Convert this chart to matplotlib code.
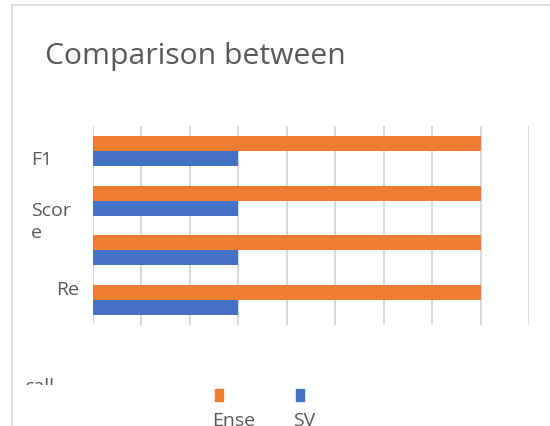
import matplotlib
matplotlib.use("Agg")
import matplotlib.pyplot as plt
from matplotlib.patches import Rectangle
from matplotlib.lines import Line2D
import numpy as np

# Data
categories = ["F1 Score", "Precision", "Accuracy", "Recall"]
ensemble = [0.8, 0.8, 0.8, 0.8]
svm = [0.3, 0.3, 0.3, 0.3]
series_names = ["Ense", "SV"]
title = "Comparison between"
label_fragments = ["F1", "Scor", "e", "Re", "call"]

ORANGE = "#ED7D31"
BLUE = "#4472C4"
GRID = "#d9d9d9"
TEXT = "#595959"
FONT = "Open Sans"

W, H = 550, 427
fig = plt.figure(figsize=(W / 100, H / 100), dpi=100)


def fx(px):
    return px / W


def fy(py):
    return 1 - py / H


# chart frame (top and left edge)
fig.add_artist(Line2D([fx(11.5), fx(11.5)], [fy(5.5), fy(H)], color=GRID, lw=1.2))
fig.add_artist(Line2D([fx(11.5), fx(W)], [fy(5.5), fy(5.5)], color=GRID, lw=1.2))

ax = fig.add_axes([fx(93), fy(326), fx(529) - fx(93), fy(127) - fy(326)])
y = np.arange(len(categories))
h = 0.30
ax.barh(y - h / 2, ensemble, height=h, color=ORANGE, zorder=3)
ax.barh(y + h / 2, svm, height=h, color=BLUE, zorder=3)
ax.set_xlim(0, 0.9)
ax.set_ylim(len(categories) - 0.5, -0.5)
ax.set_xticks(np.arange(0, 0.91, 0.1))
ax.set_yticks([])
ax.tick_params(length=0, labelbottom=False)
ax.grid(axis="x", color=GRID, lw=1.5, zorder=0)
for s in ax.spines.values():
    s.set_visible(False)
ax.patch.set_alpha(0)

fig.text(fx(45), fy(64), title, fontsize=21.7, color=TEXT, family=FONT,
         ha="left", va="baseline")

# wrapped category labels
lab_pos = [(31, 165), (31, 216), (31, 238), (56, 295), (25, 392)]
for txt, (px, py) in zip(label_fragments, lab_pos):
    t = fig.text(fx(px), fy(py), txt, fontsize=14, color=TEXT, family=FONT,
                 ha="left", va="baseline")
    if txt == "call":
        clip = Rectangle((0, fy(386)), 1, 1, transform=fig.transFigure)
        t.set_clip_path(clip)

# legend
for (px, col, name) in [(215, ORANGE, series_names[0]), (296, BLUE, series_names[1])]:
    fig.add_artist(Rectangle((fx(px), fy(402)), fx(8), 12 / H, color=col,
                             transform=fig.transFigure))
    fig.text(fx(px - 3), fy(426), name, fontsize=14, color=TEXT, family=FONT,
             ha="left", va="baseline")

fig.savefig("out.png", dpi=100)
